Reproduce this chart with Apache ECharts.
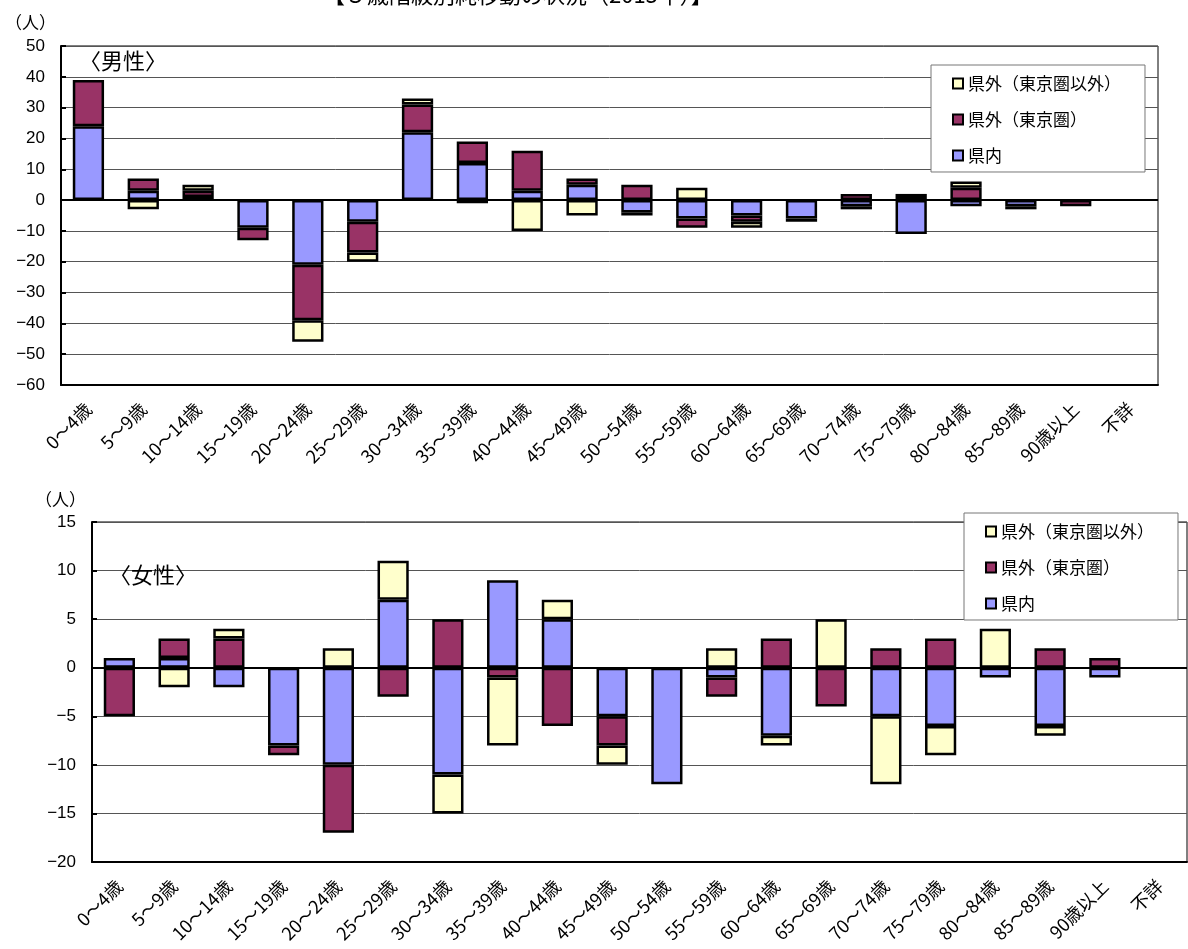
<!DOCTYPE html>
<html>
<head>
<meta charset="utf-8">
<script src="https://cdn.jsdelivr.net/npm/echarts@6/dist/echarts.min.js"></script>
<style>
html,body{margin:0;padding:0;background:#fff;}
#main{width:1188px;height:949px;}
</style>
</head>
<body>
<div id="main"></div>
<script>
const categories = ['0～4歳','5～9歳','10～14歳','15～19歳','20～24歳','25～29歳','30～34歳','35～39歳','40～44歳','45～49歳','50～54歳','55～59歳','60～64歳','65～69歳','70～74歳','75～79歳','80～84歳','85～89歳','90歳以上','不詳'];
const seriesNames = ['県内','県外（東京圏）','県外（東京圏以外）'];
const maleInPref   = [24, 3, 1, -9, -21, -7, 22, 12, 3, 5, -4, -6, -5, -6, -2, -11, -2, -2, 0, 0];
const maleTokyo    = [15, 4, 2, -4, -18, -10, 9, 7, 13, 2, 5, -3, -2, -1, 2, 1, 4, -1, -2, 0];
const maleOther    = [0, -3, 2, 0, -7, -3, 2, -1, -10, -5, -1, 4, -2, 0, -1, 1, 2, 0, 0, 0];
const femaleInPref = [1, 1, -2, -8, -10, 7, -11, 9, 5, -5, -12, -1, -7, 0, -5, -6, -1, -6, -1, 0];
const femaleTokyo  = [-5, 2, 3, -1, -7, -3, 5, -1, -6, -3, 0, -2, 3, -4, 2, 3, 0, 2, 1, 0];
const femaleOther  = [0, -2, 1, 0, 2, 4, -4, -7, 2, -2, 0, 2, -1, 5, -7, -3, 4, -1, 0, 0];
const maleTicks = {min: -60, max: 50, interval: 10};
const femaleTicks = {min: -20, max: 15, interval: 5};

const colors = ['#9999FF', '#993366', '#FFFFCC'];
const cjk = '"Noto Sans CJK JP", "Noto Sans", sans-serif';
const num = '"Liberation Sans", Arial, sans-serif';

const clean = arr => arr.map(v => v === 0 ? '-' : v);

function makeSeries(data, idx, stack) {
  return data.map((d, i) => {
    const s = {
      name: seriesNames[i],
      type: 'bar',
      stack: stack,
      xAxisIndex: idx,
      yAxisIndex: idx,
      barWidth: '57%',
      data: clean(d),
      itemStyle: {color: colors[i], borderColor: '#000', borderWidth: 2.5},
      emphasis: {disabled: true}
    };
    if (i === 0) {
      s.markLine = {
        silent: true, symbol: 'none', label: {show: false},
        lineStyle: {color: '#000', width: 2, type: 'solid'},
        data: [{yAxis: 0}], z: 10
      };
    }
    return s;
  });
}

function yAxis(idx, t) {
  return {
    type: 'value', gridIndex: idx, min: t.min, max: t.max, interval: t.interval,
    axisLine: {show: true, lineStyle: {color: '#000', width: 2}},
    axisTick: {show: true, inside: true, length: 5, lineStyle: {color: '#000', width: 2}},
    axisLabel: {color: '#000', fontFamily: num, fontSize: 17, margin: 16,
      formatter: v => String(v).replace('-', '−')},
    splitLine: {show: true, lineStyle: {color: '#555', width: 1}}
  };
}
function xAxis(idx) {
  return {
    type: 'category', gridIndex: idx, data: categories,
    axisLine: {show: true, onZero: false, lineStyle: {color: '#000', width: 2}},
    axisTick: {show: false},
    axisLabel: {color: '#000', fontFamily: cjk, fontSize: 18, rotate: 45, margin: 21, interval: 0}
  };
}

const legendBase = {
  orient: 'vertical', icon: 'rect', itemWidth: 10, itemHeight: 10, itemGap: 19,
  itemStyle: {borderColor: '#000', borderWidth: 2},
  textStyle: {fontFamily: cjk, fontSize: 17, color: '#000'},
  backgroundColor: '#fff', borderColor: '#777', borderWidth: 1,
  data: [seriesNames[2], seriesNames[1], seriesNames[0]]
};

const chart = echarts.init(document.getElementById('main'));
chart.setOption({
  animation: false,
  backgroundColor: '#fff',
  title: [
    {text: '【５歳階級別純移動の状況（2015年）】', left: 318, top: -21,
      textStyle: {fontFamily: cjk, fontSize: 22, fontWeight: 'normal', color: '#000'}},
    {text: '（人）', left: 0, top: 9, textStyle: {fontFamily: cjk, fontSize: 17, fontWeight: 'normal', color: '#000'}},
    {text: '〈男性〉', left: 74, top: 45, textStyle: {fontFamily: cjk, fontSize: 22, fontWeight: 'normal', color: '#000'}},
    {text: '（人）', left: 30, top: 486, textStyle: {fontFamily: cjk, fontSize: 17, fontWeight: 'normal', color: '#000'}},
    {text: '〈女性〉', left: 104, top: 559, textStyle: {fontFamily: cjk, fontSize: 22, fontWeight: 'normal', color: '#000'}}
  ],
  legend: [
    Object.assign({}, legendBase, {left: 931, top: 65, padding: [10, 24, 8, 21]}),
    Object.assign({}, legendBase, {left: 964, top: 513, padding: [10, 24, 8, 21]})
  ],
  grid: [
    {left: 61, top: 46, width: 1097, height: 339, show: true, borderColor: '#000', borderWidth: 1, backgroundColor: 'transparent'},
    {left: 92, top: 522, width: 1095, height: 340, show: true, borderColor: '#000', borderWidth: 1, backgroundColor: 'transparent'}
  ],
  xAxis: [xAxis(0), xAxis(1)],
  yAxis: [yAxis(0, maleTicks), yAxis(1, femaleTicks)],
  series: [
    ...makeSeries([maleInPref, maleTokyo, maleOther], 0, 'male'),
    ...makeSeries([femaleInPref, femaleTokyo, femaleOther], 1, 'female')
  ]
});
</script>
</body>
</html>
